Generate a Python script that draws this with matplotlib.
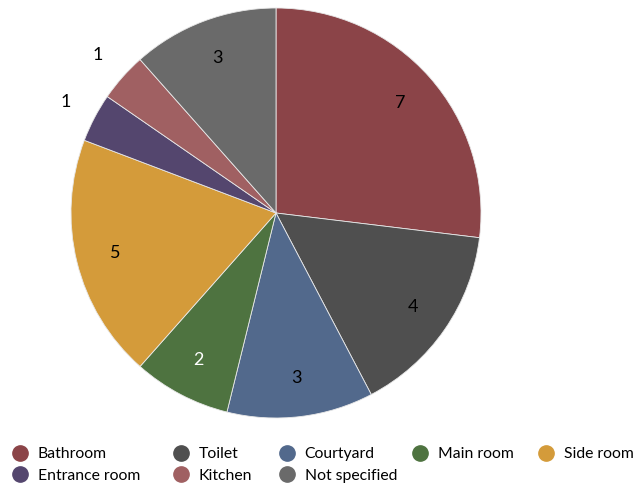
import numpy as np
import matplotlib
matplotlib.use("Agg")
import matplotlib.pyplot as plt
from matplotlib.lines import Line2D

plt.rcParams['font.family'] = ['Lato', 'DejaVu Sans']

# data
rooms = ["Bathroom", "Toilet", "Courtyard", "Main room", "Side room",
         "Entrance room", "Kitchen", "Not specified"]
counts = [7, 4, 3, 2, 5, 1, 1, 3]
colors = ["#8b4448", "#4f4f4f", "#52698c", "#4e7340", "#d49b3a",
          "#54466e", "#a06062", "#6a6a6a"]
label_colors = ["black", "black", "black", "white", "black",
                "black", "black", "black"]

W, H = 637, 491
fig = plt.figure(figsize=(W / 100, H / 100), dpi=100)

# pie centre / radius in pixels
cx, cy, r = 276, 213, 205
ax = fig.add_axes([(cx - r) / W, (H - cy - r) / H, 2 * r / W, 2 * r / H])
wedges, _ = ax.pie(counts, colors=colors, startangle=90, counterclock=False,
                   radius=1, wedgeprops=dict(edgecolor="#e8e8e8", linewidth=0.6))
ax.set_xlim(-1, 1)
ax.set_ylim(-1, 1)
ax.set_aspect("equal")
ax.axis("off")

for w, n, tc in zip(wedges, counts, label_colors):
    theta = np.deg2rad((w.theta1 + w.theta2) / 2)
    d = 1.16 if n == 1 else 0.81
    ax.text(d * np.cos(theta), d * np.sin(theta), str(n), color=tc,
            fontsize=13, ha="center", va="center", clip_on=False)

# legend: 2 rows, columns at fixed x like the original
fs = 11.3
hl = fs * 100 / 72  # handle length in px (handlelength=1)
col_x = [20, 181, 287, 420, 546]       # marker centres, px
cols = [[0, 5], [1, 6], [2, 7], [3], [4]]
for x, idx in zip(col_x, cols):
    handles = [Line2D([], [], marker="o", linestyle="none", markersize=11,
                      markerfacecolor=colors[i], markeredgecolor=colors[i])
               for i in idx]
    leg = fig.legend(handles, [rooms[i] for i in idx], ncol=1, frameon=False,
                     loc="upper left", bbox_to_anchor=((x - hl / 2) / W, 1 - 447 / H),
                     fontsize=fs, handlelength=1.0, handletextpad=0.62,
                     labelspacing=0.5, borderpad=0, borderaxespad=0)

fig.savefig("out.png", dpi=100)
